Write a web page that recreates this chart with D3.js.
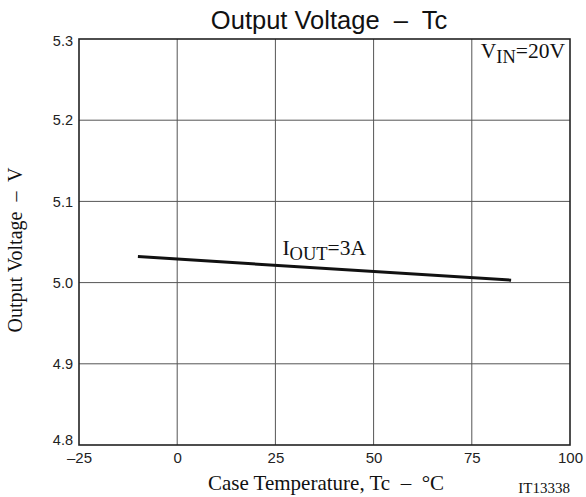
<!DOCTYPE html>
<html>
<head>
<meta charset="utf-8">
<script src="https://cdn.jsdelivr.net/npm/d3@7"></script>
<style>
  body { margin: 0; background: #fff; }
  svg { display: block; }
  text { white-space: pre; }
</style>
</head>
<body>
<div id="chart"></div>
<script>
// data
const tempC = [-10, 85];
const voutV = [5.032, 5.003];
const xTicks = [-25, 0, 25, 50, 75, 100];
const yTicks = [4.8, 4.9, 5.0, 5.1, 5.2, 5.3];

const W = 586, H = 497;
const margin = { top: 39, right: 16, bottom: 52, left: 79 },
  width = W - margin.left - margin.right,
  height = H - margin.top - margin.bottom;

const svg = d3.select("#chart").append("svg")
  .attr("width", W).attr("height", H);
const g = svg.append("g")
  .attr("transform", `translate(${margin.left},${margin.top})`);

const x = d3.scaleLinear().domain([-25, 100]).range([0, width]);
const y = d3.scaleLinear().domain([4.8, 5.3]).range([height, 0]);

const sans = "'Liberation Sans', Arial, sans-serif";
const serif = "'Liberation Serif', 'Times New Roman', serif";

// grid
g.append("g").selectAll("line").data(xTicks.slice(1, -1)).join("line")
  .attr("x1", d => x(d)).attr("x2", d => x(d))
  .attr("y1", 0).attr("y2", height)
  .attr("stroke", "#555").attr("stroke-width", 1);
g.append("g").selectAll("line").data(yTicks.slice(1, -1)).join("line")
  .attr("x1", 0).attr("x2", width)
  .attr("y1", d => y(d)).attr("y2", d => y(d))
  .attr("stroke", "#555").attr("stroke-width", 1);

// frame
g.append("rect").attr("width", width).attr("height", height)
  .attr("fill", "none").attr("stroke", "#222").attr("stroke-width", 1.6);

// axes labels (no tick marks)
const xAxis = g.append("g").attr("transform", `translate(0,${height})`)
  .call(d3.axisBottom(x).tickValues(xTicks).tickSize(0).tickPadding(7)
    .tickFormat(d => d < 0 ? "\u2013" + Math.abs(d) : d));
xAxis.select(".domain").remove();
xAxis.selectAll("text").attr("font-family", sans).attr("font-size", 15).attr("fill", "#222");

const yAxis = g.append("g")
  .call(d3.axisLeft(y).tickValues(yTicks).tickSize(0).tickPadding(6).tickFormat(d3.format(".1f")));
yAxis.select(".domain").remove();
yAxis.selectAll("text").attr("font-family", sans).attr("font-size", 14.5).attr("fill", "#222");
yAxis.selectAll(".tick text").attr("dy", (d, i) => i === 0 ? "-0.05em" : i === yTicks.length - 1 ? "0.45em" : "0.32em");

// curve
const line = d3.line().x(d => x(d[0])).y(d => y(d[1]));
g.append("path").datum(d3.zip(tempC, voutV))
  .attr("d", line).attr("fill", "none")
  .attr("stroke", "#111").attr("stroke-width", 3);

// annotations
const iout = g.append("text").attr("x", x(25) + 7).attr("y", y(5.0) - 28)
  .attr("font-family", serif).attr("font-size", 21.5).attr("fill", "#111");
iout.append("tspan").text("I");
iout.append("tspan").attr("dy", 5).attr("font-size", 18.5).text("OUT");
iout.append("tspan").attr("dy", -5).text("=3A");

const vin = g.append("text").attr("x", width - 5).attr("y", 19).attr("text-anchor", "end")
  .attr("font-family", serif).attr("font-size", 21.5).attr("fill", "#111");
vin.append("tspan").text("V");
vin.append("tspan").attr("dy", 5).attr("font-size", 18.5).text("IN");
vin.append("tspan").attr("dy", -5).text("=20V");

// titles
svg.append("text").attr("x", 329).attr("y", 29)
  .attr("text-anchor", "middle").attr("font-family", sans).attr("font-size", 25.5)
  .attr("fill", "#111").text("Output Voltage  \u2013  Tc");

svg.append("text").attr("x", 326).attr("y", 490)
  .attr("text-anchor", "middle").attr("font-family", serif).attr("font-size", 21)
  .attr("fill", "#111").text("Case Temperature, Tc  \u2013  \u00b0C");

svg.append("text").attr("x", 570).attr("y", 493)
  .attr("text-anchor", "end").attr("font-family", serif).attr("font-size", 15)
  .attr("fill", "#111").text("IT13338");

svg.append("text").attr("transform", "translate(22,250) rotate(-90)")
  .attr("text-anchor", "middle").attr("font-family", serif).attr("font-size", 20)
  .attr("fill", "#111").text("Output Voltage  \u2013  V");
</script>
</body>
</html>
